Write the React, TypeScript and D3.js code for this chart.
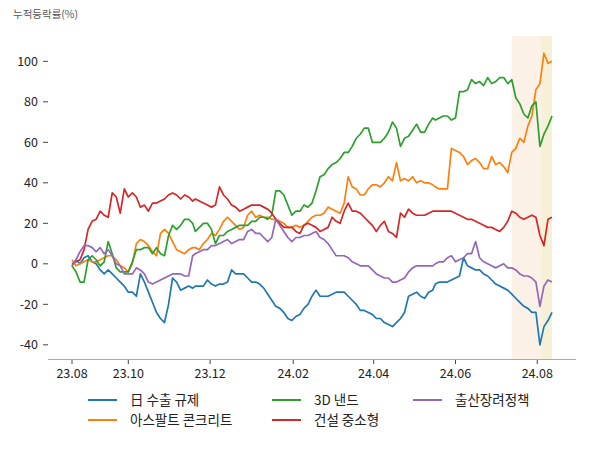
import React from "react";
import * as d3 from "d3";

const seriesNames = ["日 수출 규제", "아스팔트 콘크리트", "3D 낸드", "건설 중소형", "출산장려정책"];
const seriesColors = ["#1f77b4", "#ff7f0e", "#2ca02c", "#d62728", "#9467bd"];

const blueValues = [-1,2,0,3,4,1,0,-3,-5,-3,-5,-7,-9,-11,-14,-14,-16,-5,-9,-14,-19,-24,-27,-29,-20,-7,-9,-13,-12,-11,-12,-11,-11,-11,-8,-10,-11,-10,-10,-9,-3,-5,-5,-5,-7,-9,-9,-10,-12,-15,-18,-21,-22,-24,-27,-28,-26,-25,-22,-20,-16,-13,-16,-16,-16,-15,-14,-14,-14,-16,-18,-20,-23,-23,-24,-25,-27,-27,-29,-30,-31,-29,-27,-24,-16,-15,-14,-16,-17,-14,-13,-10,-9,-9,-9,-8,-7,-6,3,-1,-2,-3,-3,-5,-6,-8,-10,-11,-12,-13,-15,-17,-19,-21,-22,-24,-24,-40,-31,-28,-24];
const orangeValues = [2,-1,0,1,2,1,1,2,3,4,4,2,-1,-2,-4,0,10,12,11,9,6,4,15,17,15,11,7,6,5,7,8,8,7,10,12,15,14,17,21,23,21,19,17,18,24,26,23,24,23,23,22,22,21,20,18,18,19,18,19,21,23,24,24,25,28,27,26,25,30,43,38,37,34,34,37,39,39,38,40,43,41,50,41,42,41,43,40,41,40,40,39,38,37,37,37,57,56,55,53,49,51,52,50,47,47,53,49,50,48,45,55,57,62,60,68,73,86,89,104,99,100];
const greenValues = [-1,-4,-9,-9,2,4,2,-1,1,11,5,-2,-4,-4,-4,1,7,7,8,8,5,8,5,4,14,19,17,19,22,22,20,16,18,20,20,17,10,14,14,16,17,18,19,19,19,21,21,23,23,22,24,36,36,34,29,24,26,26,29,28,30,36,43,44,47,49,50,52,55,55,58,62,64,67,67,60,60,60,62,65,70,67,58,62,63,66,69,65,65,69,72,71,72,73,73,71,72,85,85,86,91,89,90,88,92,89,90,92,92,89,91,82,79,74,72,78,80,58,64,68,73];
const redValues = [0,1,2,7,17,21,22,26,24,23,35,33,25,37,33,35,33,28,29,26,30,30,31,32,34,35,34,32,34,33,31,32,31,30,29,28,29,38,34,32,29,28,26,27,28,29,29,29,28,27,25,22,20,18,18,18,16,15,19,20,19,18,16,17,18,23,21,20,26,30,26,26,25,23,21,19,16,19,21,16,15,13,25,23,27,25,24,24,24,25,26,26,26,26,26,26,25,24,23,22,22,21,20,19,18,18,17,16,18,21,26,25,23,22,23,24,23,14,9,22,23];
const purpleValues = [-1,2,6,9,9,8,6,8,5,7,4,0,-1,-5,-5,-5,-2,-3,-5,-9,-10,-9,-8,-7,-6,-5,-5,-5,-6,-6,4,5,6,7,7,9,9,10,11,12,10,11,12,12,16,17,15,15,13,11,13,22,19,16,13,11,13,13,14,14,15,16,13,12,10,7,4,4,4,3,1,0,-1,-1,-1,-3,-5,-6,-7,-7,-9,-9,-8,-7,-4,-2,-1,-1,-1,-1,-1,0,1,1,3,4,1,2,3,5,5,11,3,1,0,-1,-2,-1,0,-2,-2,-3,-5,-6,-6,-7,-9,-21,-11,-8,-9];

const allSeries = [blueValues, orangeValues, greenValues, redValues, purpleValues];

const startDate = new Date(2023, 7, 20);
const endDate = new Date(2024, 7, 12);
const dates = d3.range(blueValues.length).map((i) =>
  d3.timeDay.offset(startDate, Math.round((i * 358) / (blueValues.length - 1)))
);

const xTickDates = [
  new Date(2023, 7, 20),
  new Date(2023, 9, 1),
  new Date(2023, 11, 1),
  new Date(2024, 1, 1),
  new Date(2024, 3, 1),
  new Date(2024, 5, 1),
  new Date(2024, 7, 1),
];
const xTickLabels = ["23.08", "23.10", "23.12", "24.02", "24.04", "24.06", "24.08"];
const yTicks = [-40, -20, 0, 20, 40, 60, 80, 100];

const shadeSpans = [
  { from: new Date(2024, 6, 13), to: new Date(2024, 7, 4), color: "#fbf1e7" },
  { from: new Date(2024, 7, 4), to: new Date(2024, 7, 12), color: "#f5f0d6" },
];

const FONT = "'Noto Sans CJK KR', 'Noto Sans', sans-serif";

export default function App() {
  const x = d3.scaleTime().domain([startDate, endDate]).range([72, 552]);
  const y = d3.scaleLinear().domain([-47, 113]).range([359, 35]);
  const line = d3
    .line<number>()
    .x((_, i) => x(dates[i]))
    .y((v) => y(v));

  const legendItems = [
    { idx: 0, lx: 88, ly: 400 },
    { idx: 1, lx: 88, ly: 420 },
    { idx: 2, lx: 272, ly: 400 },
    { idx: 3, lx: 272, ly: 420 },
    { idx: 4, lx: 413, ly: 400 },
  ];

  return (
    <svg
      width={600}
      height={450}
      style={{ position: "absolute", left: 0, top: 0, background: "#fff" }}
      fontFamily={FONT}
    >
      <rect x={0} y={0} width={600} height={450} fill="#fff" />
      <text x={13} y={18} fontSize={10.5} fill="#555">
        누적등락률(%)
      </text>
      {shadeSpans.map((s, i) => (
        <rect
          key={i}
          x={x(s.from)}
          y={36}
          width={x(s.to) - x(s.from)}
          height={359 - 36}
          fill={s.color}
        />
      ))}
      {yTicks.map((t) => (
        <g key={t} transform={`translate(0,${y(t)})`}>
          <line x1={43} x2={48} stroke="#444" strokeWidth={1} />
          <text x={38} dy="0.35em" textAnchor="end" fontSize={12.5} fill="#222">
            {t}
          </text>
        </g>
      ))}
      <line x1={48} x2={576} y1={359.5} y2={359.5} stroke="#aaa" strokeWidth={1} />
      {xTickDates.map((d, i) => (
        <g key={i} transform={`translate(${x(d)},0)`}>
          <line y1={360} y2={364} stroke="#444" strokeWidth={1} />
          <text y={378} textAnchor="middle" fontSize={12.5} fill="#222">
            {xTickLabels[i]}
          </text>
        </g>
      ))}
      {allSeries.map((vals, i) => (
        <path
          key={i}
          d={line(vals) || ""}
          fill="none"
          stroke={seriesColors[i]}
          strokeWidth={1.7}
          strokeLinejoin="round"
        />
      ))}
      {legendItems.map((it) => (
        <g key={it.idx}>
          <line
            x1={it.lx}
            x2={it.lx + 29}
            y1={it.ly}
            y2={it.ly}
            stroke={seriesColors[it.idx]}
            strokeWidth={2}
          />
          <text x={it.lx + 42} y={it.ly} dy="0.35em" fontSize={13.5} fill="#222">
            {seriesNames[it.idx]}
          </text>
        </g>
      ))}
    </svg>
  );
}
